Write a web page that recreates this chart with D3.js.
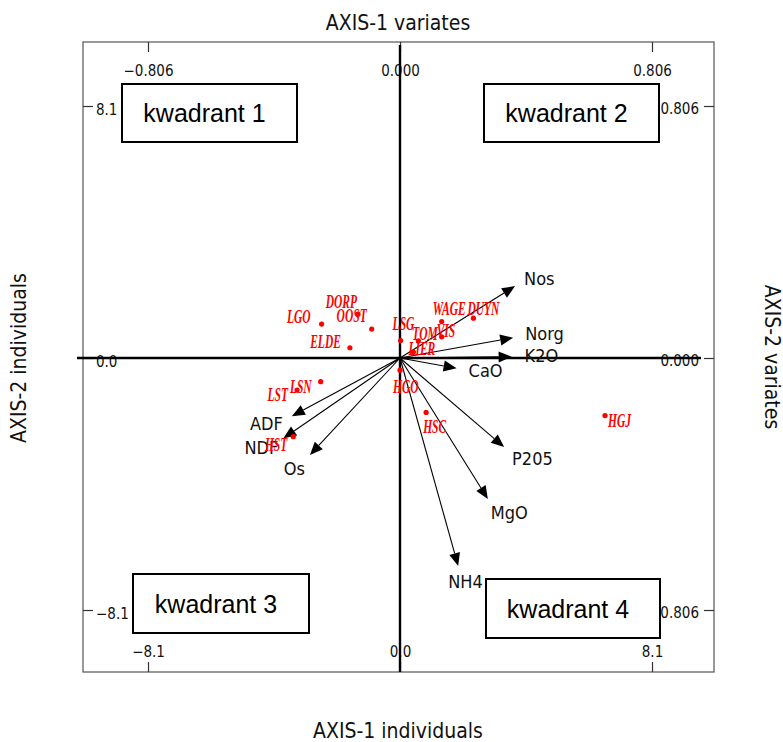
<!DOCTYPE html>
<html><head><meta charset="utf-8">
<script src="https://cdn.jsdelivr.net/npm/d3@7"></script>
<style>body{margin:0;background:#fff}svg{display:block}</style>
</head><body><svg id="c" width="783" height="742"></svg>
<script>
// ---- data ----
const variates = ["Nos","Norg","K2O","CaO","P205","MgO","NH4","ADF","NDF","Os"];
const varX = [0.368, 0.362, 0.357, 0.181, 0.333, 0.281, 0.186, -0.346, -0.373, -0.288];
const varY = [0.230, 0.065, 0.004, -0.033, -0.285, -0.451, -0.665, -0.186, -0.257, -0.310];

const individuals = ["LGO","DORP","OOST","ELDE","LSG","TOM","VIS","WAGE","DUYN","LIER","HGO","HSC","HGJ","LSN","LST","HST"];
const indX = [-2.52, -1.35, -0.91, -1.61, 0.02, 0.59, 1.34, 1.34, 2.36, 0.43, 0.00, 0.84, 6.59, -2.55, -3.31, -3.43];
const indY = [1.09, 1.41, 0.93, 0.33, 0.56, 0.55, 0.68, 1.17, 1.28, 0.19, -0.39, -1.75, -1.85, -0.76, -1.03, -2.53];

const indTicks = [-8.1, 0, 8.1];
const indTickLabels = ["\u22128.1", "0.0", "8.1"];
const varTicks = [-0.806, 0, 0.806];
const varTickLabels = ["\u22120.806", "0.000", "0.806"];

const quadrants = ["kwadrant 1","kwadrant 2","kwadrant 3","kwadrant 4"];

// ---- layout (not data) ----
const frame = {x0: 83, x1: 714, y0: 42, y1: 672};
const quadBoxes = [[122,84,297,142],[484,84,659,142],[133,574,309,633],[486,579,660,638]];
const varLab = [["start",9,-1],["start",12,2],["start",13,5],["start",12,9],["start",8,18],["start",3,20],["start",-10,22],["end",-9,14],["end",-5,16],["end",-5,20]];
const indLab = [["end",-11,-1],["end",-1,-6],["end",-5,-7],["end",-9,0],["start",-8,-11],["start",-6,-1],["start",-5,0],["start",-9,-7],["start",-6,-3],["start",-5,3],["start",-7,23],["start",-3,21],["start",3,11],["end",-9,11],["end",-9,11],["end",-6,14]];

const narrow = "'DejaVu Sans Condensed','DejaVu Sans',sans-serif";

const svg = d3.select("#c");
const xInd = d3.scaleLinear().domain([-8.1, 8.1]).range([148, 652]);
const yInd = d3.scaleLinear().domain([-8.1, 8.1]).range([610, 106]);
const xVar = d3.scaleLinear().domain([-0.806, 0.806]).range([148, 652]);
const yVar = d3.scaleLinear().domain([-0.806, 0.806]).range([610, 106]);

// frame
svg.append("rect").attr("x",frame.x0).attr("y",frame.y0)
  .attr("width",frame.x1-frame.x0).attr("height",frame.y1-frame.y0)
  .attr("fill","none").attr("stroke","#555").attr("stroke-width",1.2);

function styleAxis(g){
  g.select(".domain").remove();
  g.selectAll(".tick line").attr("stroke","#333").attr("stroke-width",1.2);
  g.selectAll(".tick text").attr("font-family",narrow).attr("font-size",15).attr("fill","#111");
}
svg.append("g").attr("transform",`translate(0,${frame.y0})`)
  .call(d3.axisBottom(xVar).tickValues(varTicks).tickFormat((d,i)=>varTickLabels[i]).tickSizeInner(10).tickSizeOuter(0).tickPadding(13))
  .call(styleAxis);
svg.append("g").attr("transform",`translate(0,${frame.y1})`)
  .call(d3.axisTop(xInd).tickValues(indTicks).tickFormat((d,i)=>indTickLabels[i]).tickSizeInner(10).tickSizeOuter(0).tickPadding(5))
  .call(styleAxis);
svg.append("g").attr("transform",`translate(${frame.x0},0)`)
  .call(d3.axisRight(yInd).tickValues(indTicks).tickFormat((d,i)=>indTickLabels[i]).tickSizeInner(10).tickSizeOuter(0).tickPadding(3))
  .call(styleAxis)
  .call(g=>g.selectAll(".tick text").attr("dy","0.55em"));
svg.append("g").attr("transform",`translate(${frame.x1},0)`)
  .call(d3.axisLeft(yVar).tickValues(varTicks).tickFormat((d,i)=>varTickLabels[i]).tickSizeInner(10).tickSizeOuter(0).tickPadding(5))
  .call(styleAxis)
  .call(g=>g.selectAll(".tick text").attr("dy","0.5em"));

// main cross axes
svg.append("line").attr("x1",77).attr("x2",701).attr("y1",yInd(0)).attr("y2",yInd(0))
  .attr("stroke","#000").attr("stroke-width",2.4);
svg.append("line").attr("x1",xInd(0)).attr("x2",xInd(0)).attr("y1",45).attr("y2",frame.y1)
  .attr("stroke","#000").attr("stroke-width",2.4);

// axis titles
function title(txt, x, y, rot){
  svg.append("text").text(txt)
    .attr("transform",`translate(${x},${y}) rotate(${rot})`)
    .attr("text-anchor","middle").attr("font-family",narrow)
    .attr("font-size",21).attr("fill","#111");
}
title("AXIS-1 variates", 398, 30, 0);
title("AXIS-1 individuals", 398, 738, 0);
title("AXIS-2 individuals", 26, 358, -90);
title("AXIS-2 variates", 765, 357, 90);

// quadrant boxes
quadBoxes.forEach((b,i)=>{
  svg.append("rect").attr("x",b[0]).attr("y",b[1]).attr("width",b[2]-b[0]).attr("height",b[3]-b[1])
    .attr("fill","#fff").attr("stroke","#000").attr("stroke-width",2);
  svg.append("text").text(quadrants[i]).attr("x",(b[0]+b[2])/2-5).attr("y",(b[1]+b[3])/2+9)
    .attr("text-anchor","middle").attr("font-family","'Liberation Sans',Arial,sans-serif")
    .attr("font-size",25).attr("fill","#000");
});

// variate arrows
const ox = xVar(0), oy = yVar(0);
variates.forEach((v,i)=>{
  const tx = xVar(varX[i]), ty = yVar(varY[i]);
  const ang = Math.atan2(ty-oy, tx-ox);
  const L = 13, Wd = 5.5;
  const bx = tx - L*Math.cos(ang), by = ty - L*Math.sin(ang);
  svg.append("line").attr("x1",ox).attr("y1",oy).attr("x2",bx).attr("y2",by)
    .attr("stroke","#000").attr("stroke-width",1.1);
  const p = [[tx,ty],[bx - Wd*Math.sin(ang), by + Wd*Math.cos(ang)],[bx + Wd*Math.sin(ang), by - Wd*Math.cos(ang)]];
  svg.append("path").attr("d","M"+p.map(q=>q.join(",")).join("L")+"Z").attr("fill","#000");
  const [anc,dx,dy] = varLab[i];
  svg.append("text").text(v).attr("x",tx+dx).attr("y",ty+dy).attr("text-anchor",anc)
    .attr("font-family",narrow).attr("font-size",18).attr("fill","#111");
});

// individuals
individuals.forEach((n,i)=>{
  const px = xInd(indX[i]), py = yInd(indY[i]);
  svg.append("circle").attr("cx",px).attr("cy",py).attr("r",2.6).attr("fill","#f00");
  const [anc,dx,dy] = indLab[i];
  svg.append("text").text(n)
    .attr("transform",`translate(${px+dx},${py+dy}) scale(0.64,1)`)
    .attr("text-anchor",anc).attr("font-family","'Liberation Serif','Times New Roman',serif")
    .attr("font-style","italic").attr("font-weight","bold").attr("font-size",18).attr("fill","#f00");
});
</script></body></html>
